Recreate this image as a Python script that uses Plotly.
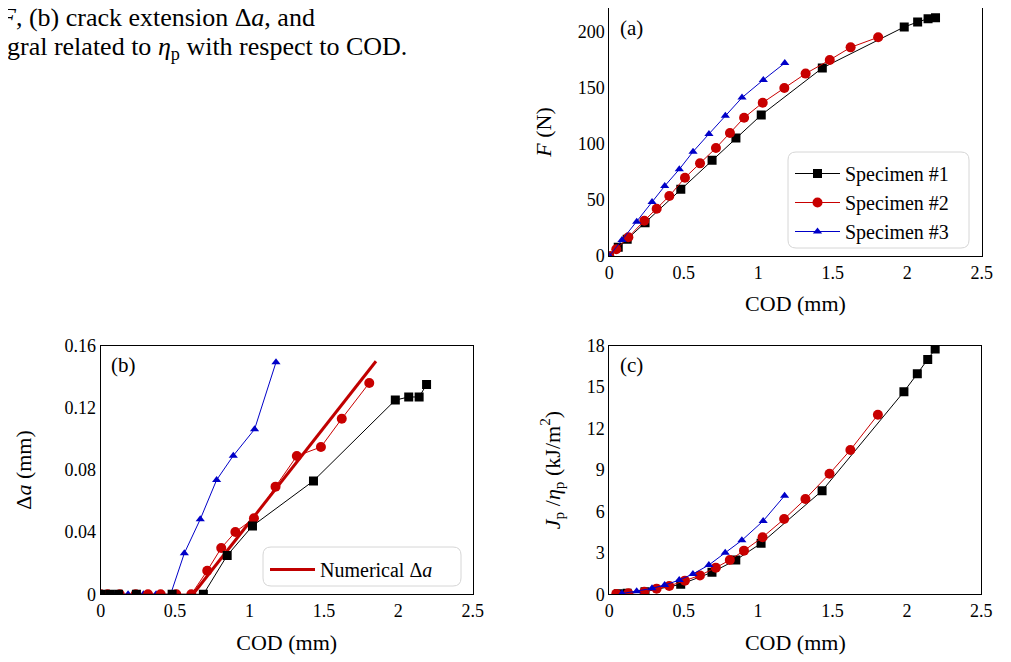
import plotly.graph_objects as go

# ---------------- data ----------------
cod1 = [0, 0.06, 0.12, 0.24, 0.48, 0.69, 0.85, 1.02, 1.43, 1.98, 2.07, 2.14, 2.19]
F1 = [0, 7.7, 15, 29.7, 59.4, 85.3, 105.2, 125.7, 167.6, 204.2, 208.6, 211.6, 212.5]
da1 = [0, 0, 0, 0, 0, 0, 0.025, 0.044, 0.073, 0.125, 0.127, 0.127, 0.135]
J1 = [0.04, 0.08, 0.19, 0.72, 1.59, 2.48, 3.69, 7.5, 14.67, 15.97, 17.0, 17.76]

cod2 = [0, 0.047, 0.128, 0.235, 0.318, 0.403, 0.508, 0.609, 0.716, 0.81, 0.905,
        1.03, 1.175, 1.318, 1.48, 1.62, 1.805]
F2 = [0, 6, 16.7, 31.5, 42.2, 53.5, 69.8, 82.6, 96.3, 109.7, 123.3, 136.7, 149.8,
      162.6, 174.8, 186, 195]
da2 = [0, 0, 0, 0, 0, 0, 0, 0, 0.0152, 0.0298, 0.0401, 0.0489, 0.0693, 0.089,
       0.0948, 0.113, 0.136]
J2 = [0.03, 0.07, 0.19, 0.41, 0.6, 0.99, 1.37, 1.93, 2.48, 3.16, 4.13, 5.45, 6.9,
      8.73, 10.45, 13.0]

cod3 = [0, 0.085, 0.184, 0.287, 0.372, 0.47, 0.562, 0.669, 0.779, 0.891, 1.034, 1.178]
F3 = [0, 14.3, 30.6, 48.2, 62.4, 77.3, 93, 108.8, 125.1, 141.2, 157, 172]
da3 = [0, 0, 0, 0, 0, 0, 0.0264, 0.0483, 0.0736, 0.0892, 0.1062, 0.1493]
J3 = [0.05, 0.22, 0.43, 0.67, 1.03, 1.47, 2.12, 3.01, 3.91, 5.31, 7.14]

cod_num = [0.62, 1.85]
da_num = [0, 0.15]

names = ["Specimen #1", "Specimen #2", "Specimen #3"]
x_ticks = [0, 0.5, 1, 1.5, 2, 2.5]
x_ticklabels = ["0", "0.5", "1", "1.5", "2", "2.5"]
F_ticks = [0, 50, 100, 150, 200]
F_range = [0, 221.1]
da_ticks = [0, 0.04, 0.08, 0.12, 0.16]
da_ticklabels = ["0", "0.04", "0.08", "0.12", "0.16"]
J_ticks = [0, 3, 6, 9, 12, 15, 18]

BLACK = "#000000"
RED = "#c80000"
BLUE = "#0000c8"
FONT = "Liberation Serif"

styles = [
    dict(color=BLACK, symbol="square", size=9),
    dict(color=RED, symbol="circle", size=10),
    dict(color=BLUE, symbol="triangle-up", size=8),
]

fig = go.Figure()

# panel (a)
for cx, cy, nm, st in zip([cod1, cod2, cod3], [F1, F2, F3], names, styles):
    fig.add_trace(go.Scatter(x=cx, y=cy, mode="lines+markers", name=nm,
                             line=dict(color=st["color"], width=1),
                             marker=dict(color=st["color"], symbol=st["symbol"], size=st["size"]),
                             xaxis="x", yaxis="y", legend="legend"))

# panel (b)
fig.add_trace(go.Scatter(x=cod_num, y=da_num, mode="lines", name="Numerical Δ<i>a</i>",
                         line=dict(color="#c00000", width=3),
                         xaxis="x2", yaxis="y2", legend="legend2"))
for cx, cy, nm, st in zip([cod3, cod2, cod1], [da3, da2, da1], names[::-1], styles[::-1]):
    fig.add_trace(go.Scatter(x=cx, y=cy, mode="lines+markers", name=nm, showlegend=False,
                             line=dict(color=st["color"], width=1),
                             marker=dict(color=st["color"], symbol=st["symbol"], size=st["size"]),
                             xaxis="x2", yaxis="y2"))

# panel (c)
for cx, cy, nm, st in zip([cod1[1:], cod2[1:], cod3[1:]], [J1, J2, J3], names, styles):
    fig.add_trace(go.Scatter(x=cx, y=cy, mode="lines+markers", name=nm, showlegend=False,
                             line=dict(color=st["color"], width=1),
                             marker=dict(color=st["color"], symbol=st["symbol"], size=st["size"]),
                             xaxis="x3", yaxis="y3"))

# page has an 8px body margin; size the figure so that it fits the window
OFF = 8
FW, FH = 1011 - OFF, 662 - OFF


def px_x(p):
    return min(1.0, max(0.0, (p - OFF) / FW))


def px_y(p):
    return min(1.0, max(0.0, 1 - (p - OFF) / FH))


def rounded_box(x0, y0, x1, y1, r=8):
    """Rounded rectangle path in paper coordinates from window pixel corners."""
    X0, X1 = px_x(x0), px_x(x1)
    Y0, Y1 = px_y(y0), px_y(y1)  # Y0 top, Y1 bottom
    rx, ry = r / FW, r / FH
    return (f"M {X0 + rx},{Y0} L {X1 - rx},{Y0} Q {X1},{Y0} {X1},{Y0 - ry} "
            f"L {X1},{Y1 + ry} Q {X1},{Y1} {X1 - rx},{Y1} "
            f"L {X0 + rx},{Y1} Q {X0},{Y1} {X0},{Y1 + ry} "
            f"L {X0},{Y0 - ry} Q {X0},{Y0} {X0 + rx},{Y0} Z")


TICK = dict(family=FONT, size=18, color="black")
TITLE = dict(family=FONT, size=22, color="black")
LEG = dict(family=FONT, size=20, color="black")

axis_common = dict(showgrid=False, zeroline=False, showline=True, linecolor="black",
                   linewidth=1, mirror=True, ticks="", tickfont=TICK, automargin=False)

xa = dict(axis_common, range=[0, 2.5], tickvals=x_ticks, ticktext=x_ticklabels,
          title=dict(text="COD (mm)", font=TITLE, standoff=14))

fig.update_layout(
    width=FW, height=FH,
    margin=dict(l=0, r=0, t=0, b=0),
    paper_bgcolor="white", plot_bgcolor="white",
    font=dict(family=FONT, color="black"),
    xaxis=dict(xa, domain=[px_x(609.3), px_x(981.7)], anchor="y"),
    yaxis=dict(axis_common, domain=[px_y(256), px_y(8)], range=F_range, anchor="x",
               tickvals=F_ticks,
               title=dict(text="<i>F</i> (N)", font=TITLE, standoff=20)),
    xaxis2=dict(xa, domain=[px_x(100.7), px_x(472.7)], anchor="y2"),
    yaxis2=dict(axis_common, domain=[px_y(594.3), px_y(345.7)], range=[0, 0.16], anchor="x2",
                tickvals=da_ticks, ticktext=da_ticklabels,
                title=dict(text="Δ<i>a</i> (mm)", font=TITLE, standoff=26)),
    xaxis3=dict(xa, domain=[px_x(609.3), px_x(981.3)], anchor="y3"),
    yaxis3=dict(axis_common, domain=[px_y(594.3), px_y(345.7)], range=[0, 18], anchor="x3",
                tickvals=J_ticks,
                title=dict(text="<i>J</i><sub>p</sub> /<i>η</i><sub>p</sub> (kJ/m<sup>2</sup>)",
                           font=TITLE, standoff=20)),
    legend=dict(x=px_x(790), y=px_y(154), xanchor="left", yanchor="top",
                bgcolor="rgba(0,0,0,0)", borderwidth=0,
                font=LEG, itemwidth=45, tracegroupgap=0),
    legend2=dict(x=px_x(265), y=px_y(550), xanchor="left", yanchor="top",
                 bgcolor="rgba(0,0,0,0)", borderwidth=0,
                 font=LEG, itemwidth=45),
    showlegend=True,
)

# rounded legend frames
for box in [(788, 152, 969, 248), (263, 547, 461, 586)]:
    fig.add_shape(type="path", path=rounded_box(*box), xref="paper", yref="paper",
                  fillcolor="white", line=dict(color="#d6d6d6", width=1), layer="above")

ann_font = dict(family=FONT, size=21, color="black")
fig.add_annotation(text="(a)", x=px_x(618), y=px_y(28), xref="paper", yref="paper",
                   xanchor="left", yanchor="middle", showarrow=False, font=ann_font)
fig.add_annotation(text="(b)", x=px_x(109), y=px_y(365), xref="paper", yref="paper",
                   xanchor="left", yanchor="middle", showarrow=False, font=ann_font)
fig.add_annotation(text="(c)", x=px_x(618), y=px_y(365), xref="paper", yref="paper",
                   xanchor="left", yanchor="middle", showarrow=False, font=ann_font)

# cut-off caption text at top-left
cap_font = dict(family=FONT, size=26, color="black")
fig.add_annotation(text="<i>F</i>, (b) crack extension Δ<i>a</i>, and", x=px_x(317), y=px_y(18),
                   xref="paper", yref="paper", xanchor="right", yanchor="middle",
                   showarrow=False, font=cap_font)
fig.add_annotation(text="gral related to <i>η</i><sub>p</sub> with respect to COD.", x=px_x(409), y=px_y(48),
                   xref="paper", yref="paper", xanchor="right", yanchor="middle",
                   showarrow=False, font=cap_font)

fig.write_html("out.html")
